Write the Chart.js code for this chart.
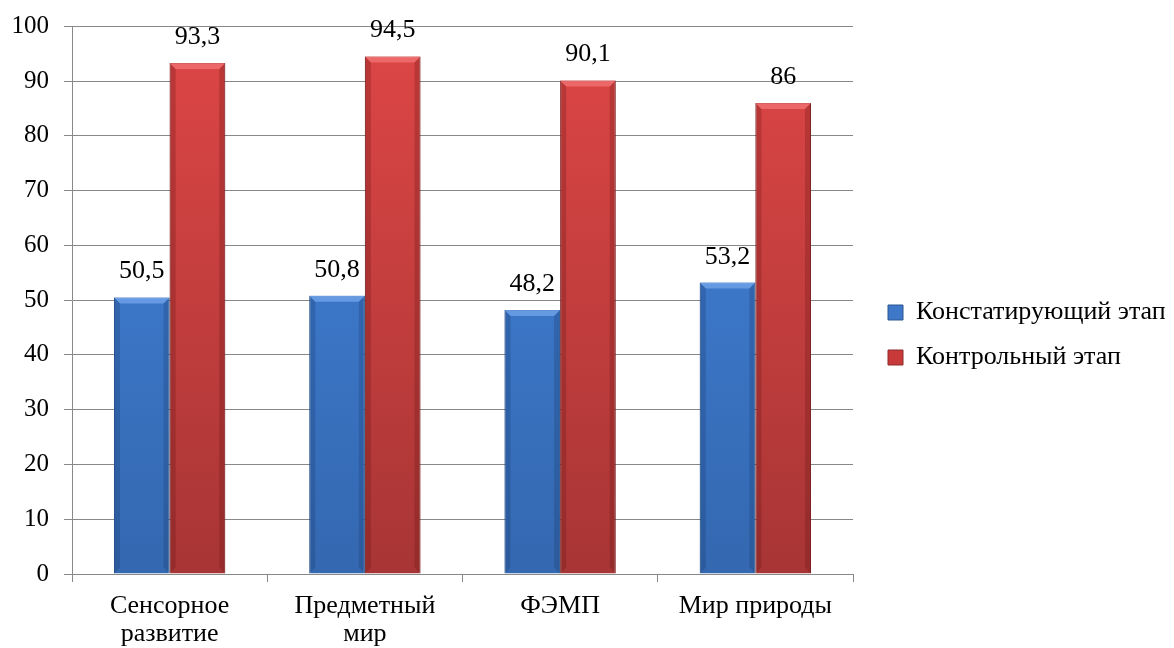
<!DOCTYPE html>
<html>
<head>
<meta charset="utf-8">
<script src="https://cdn.jsdelivr.net/npm/chart.js@4.4.1/dist/chart.umd.min.js"></script>
<style>
  html, body { margin: 0; padding: 0; background: #fff; }
</style>
</head>
<body>
<canvas id="chart" width="1174" height="648"></canvas>
<script>
// данные диаграммы
const categories = [['Сенсорное', 'развитие'], ['Предметный', 'мир'], 'ФЭМП', 'Мир природы'];
const seriesNames = ['Констатирующий этап', 'Контрольный этап'];
const stage1 = [50.5, 50.8, 48.2, 53.2];
const stage2 = [93.3, 94.5, 90.1, 86];
const yTicks = [0, 10, 20, 30, 40, 50, 60, 70, 80, 90, 100];

const FONT = "'Liberation Serif', 'DejaVu Serif', serif";
const FS = 26;
const LEGEND_WIDTH = 321;
const LEGEND_SHIFT = 16;

function fmt(v) {
    return String(v).replace('.', ',');
}

// градиент столбика (светлее сверху, темнее снизу)
function barFill(top, bottom) {
    return function(context) {
        const chart = context.chart;
        const area = chart.chartArea;
        if (!area) return top;
        const g = chart.ctx.createLinearGradient(0, area.top, 0, area.bottom);
        g.addColorStop(0, top);
        g.addColorStop(1, bottom);
        return g;
    };
}

const bevelColors = [
    { light: 'rgba(120,170,240,0.7)', dark: 'rgba(20,50,100,0.25)' },
    { light: 'rgba(245,120,120,0.7)', dark: 'rgba(90,15,15,0.25)' }
];

// ширина и положение легенды
const legendPlace = {
    id: 'legendPlace',
    beforeLayout(chart) {
        const lg = chart.legend;
        if (lg && !lg._wrapped) {
            const fit = lg.fit.bind(lg);
            lg.fit = function() {
                fit();
                this.width = LEGEND_WIDTH;
            };
            lg._wrapped = true;
        }
    },
    afterLayout(chart) {
        const lg = chart.legend;
        if (lg) {
            lg.left += LEGEND_SHIFT;
            lg.right += LEGEND_SHIFT;
            lg.top += 11;
            lg.bottom += 11;
        }
    }
};

// фаска на столбиках + подписи значений
const barDecor = {
    id: 'barDecor',
    afterDatasetsDraw(chart) {
        const ctx = chart.ctx;
        ctx.save();
        chart.data.datasets.forEach(function(ds, i) {
            const c = bevelColors[i];
            chart.getDatasetMeta(i).data.forEach(function(bar) {
                const l = bar.x - bar.width / 2, r = bar.x + bar.width / 2;
                const t = bar.y, b = bar.base, e = 6;
                // верхняя грань
                ctx.fillStyle = c.light;
                ctx.beginPath();
                ctx.moveTo(l, t); ctx.lineTo(r, t); ctx.lineTo(r - e, t + e); ctx.lineTo(l + e, t + e);
                ctx.closePath(); ctx.fill();
                // боковые грани
                ctx.fillStyle = c.dark;
                ctx.beginPath();
                ctx.moveTo(l, t); ctx.lineTo(l + e, t + e); ctx.lineTo(l + e, b - e); ctx.lineTo(l, b);
                ctx.closePath(); ctx.fill();
                ctx.beginPath();
                ctx.moveTo(r, t); ctx.lineTo(r - e, t + e); ctx.lineTo(r - e, b - e); ctx.lineTo(r, b);
                ctx.closePath(); ctx.fill();
            });
        });
        ctx.font = FS + 'px ' + FONT;
        ctx.fillStyle = '#000';
        ctx.textAlign = 'center';
        ctx.textBaseline = 'alphabetic';
        chart.data.datasets.forEach(function(ds, i) {
            chart.getDatasetMeta(i).data.forEach(function(bar, j) {
                ctx.fillText(fmt(ds.data[j]), bar.x, bar.y - 19);
            });
        });
        ctx.restore();
    }
};

const ctx = document.getElementById('chart').getContext('2d');

new Chart(ctx, {
    type: 'bar',
    data: {
        labels: categories,
        datasets: [{
            label: seriesNames[0],
            data: stage1,
            backgroundColor: barFill('#4283dc', '#3468b0'),
            borderColor: '#2e5d9c',
            borderWidth: 1
        }, {
            label: seriesNames[1],
            data: stage2,
            backgroundColor: barFill('#de4646', '#a83535'),
            borderColor: '#8e2a2a',
            borderWidth: 1
        }]
    },
    options: {
        responsive: false,
        animation: false,
        layout: { padding: { top: 0, right: 0, left: 0, bottom: 0 } },
        datasets: {
            bar: { categoryPercentage: 0.57, barPercentage: 1 }
        },
        plugins: {
            tooltip: { enabled: false },
            legend: {
                position: 'right',
                align: 'center',
                labels: {
                    color: '#000',
                    font: { family: FONT, size: FS },
                    boxWidth: 15,
                    boxHeight: 15,
                    padding: 19,
                    generateLabels(chart) {
                        return chart.data.datasets.map(function(ds, i) {
                            return {
                                text: ds.label,
                                fillStyle: i === 0 ? '#3f78c8' : '#c83a3a',
                                strokeStyle: i === 0 ? '#2c5690' : '#8e2a2a',
                                lineWidth: 1,
                                datasetIndex: i
                            };
                        });
                    }
                }
            }
        },
        scales: {
            x: {
                grid: {
                    offset: true,
                    drawOnChartArea: false,
                    drawTicks: true,
                    tickLength: 8,
                    color: '#888'
                },
                border: { color: '#888', width: 1 },
                ticks: {
                    color: '#000',
                    font: { family: FONT, size: FS, lineHeight: 1.08 },
                    padding: 10,
                    maxRotation: 0
                },
                afterFit(axis) { axis.height = 74; }
            },
            y: {
                min: 0,
                max: 100,
                afterBuildTicks(axis) {
                    axis.ticks = yTicks.map(function(v) { return { value: v }; });
                },
                grid: {
                    color: '#888',
                    tickLength: 8
                },
                border: { color: '#888', width: 1 },
                ticks: {
                    color: '#000',
                    font: { family: FONT, size: 25, lineHeight: 0.9 },
                    padding: 15
                },
                afterFit(axis) { axis.width = 72; }
            }
        }
    },
    plugins: [barDecor, legendPlace]
});
</script>
</body>
</html>
